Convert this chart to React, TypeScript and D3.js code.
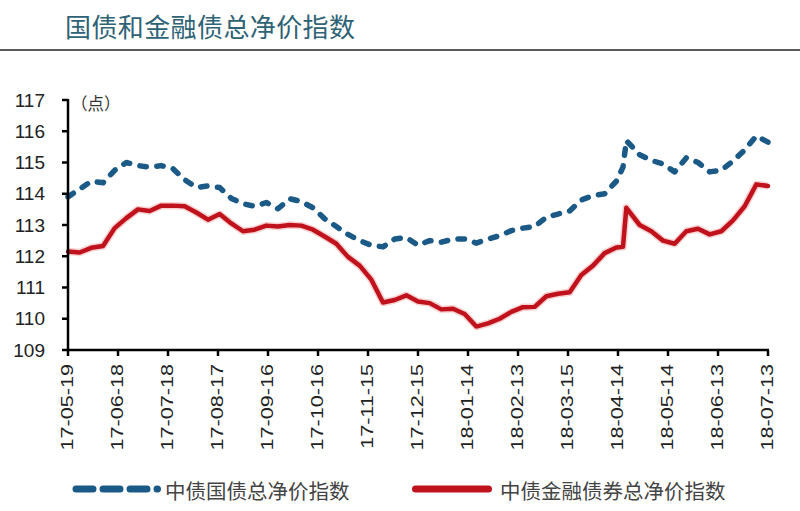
import * as d3 from 'd3';

const DATES: string[] = [
  '2017-05-19', '2017-05-26', '2017-06-02', '2017-06-09', '2017-06-16', '2017-06-23', '2017-06-30',
  '2017-07-07', '2017-07-14', '2017-07-21', '2017-07-28', '2017-08-04', '2017-08-11', '2017-08-18',
  '2017-08-25', '2017-09-01', '2017-09-08', '2017-09-15', '2017-09-22', '2017-09-29', '2017-10-06',
  '2017-10-13', '2017-10-20', '2017-10-27', '2017-11-03', '2017-11-10', '2017-11-17', '2017-11-24',
  '2017-12-01', '2017-12-08', '2017-12-15', '2017-12-22', '2017-12-29', '2018-01-05', '2018-01-12',
  '2018-01-19', '2018-01-26', '2018-02-02', '2018-02-09', '2018-02-16', '2018-02-23', '2018-03-02',
  '2018-03-09', '2018-03-16', '2018-03-23', '2018-03-30', '2018-04-06', '2018-04-13', '2018-04-17',
  '2018-04-19', '2018-04-27', '2018-05-04', '2018-05-11', '2018-05-18', '2018-05-25', '2018-06-01',
  '2018-06-08', '2018-06-15', '2018-06-22', '2018-06-29', '2018-07-06', '2018-07-13',
];

// 中债国债总净价指数
const GOV: number[] = [
  113.9, 114.15, 114.4, 114.35, 114.75, 115.0, 114.9,
  114.85, 114.9, 114.8, 114.45, 114.2, 114.25, 114.2,
  113.85, 113.68, 113.6, 113.72, 113.52, 113.84, 113.75,
  113.55, 113.2, 112.95, 112.7, 112.5, 112.35, 112.3,
  112.55, 112.6, 112.35, 112.5, 112.45, 112.55, 112.55,
  112.42, 112.55, 112.66, 112.82, 112.9, 112.95, 113.25,
  113.35, 113.45, 113.8, 113.94, 114.0, 114.4, 114.85,
  115.7, 115.25, 115.07, 114.95, 114.7, 115.15, 115.0,
  114.7, 114.75, 115.05, 115.4, 115.85, 115.65,
];

// 中债金融债券总净价指数
const FIN: number[] = [
  112.15, 112.12, 112.27, 112.33, 112.9, 113.22, 113.5,
  113.45, 113.62, 113.62, 113.6, 113.4, 113.17, 113.35,
  113.05, 112.8, 112.85, 112.98, 112.95, 113.0, 112.98,
  112.85, 112.63, 112.4, 111.98, 111.7, 111.25, 110.52,
  110.6, 110.75, 110.55, 110.5, 110.3, 110.32, 110.15,
  109.75, 109.85, 110.0, 110.22, 110.37, 110.38, 110.72,
  110.8, 110.85, 111.4, 111.7, 112.1, 112.28, 112.3,
  113.55, 113.0, 112.8, 112.5, 112.4, 112.8, 112.88,
  112.7, 112.8, 113.15, 113.6, 114.3, 114.25,
];

const TICK_DATES: string[] = [
  '2017-05-19', '2017-06-18', '2017-07-18', '2017-08-17', '2017-09-16', '2017-10-16', '2017-11-15',
  '2017-12-15', '2018-01-14', '2018-02-13', '2018-03-15', '2018-04-14', '2018-05-14', '2018-06-13',
  '2018-07-13',
];

const Y_TICKS: number[] = [109, 110, 111, 112, 113, 114, 115, 116, 117];

const TITLE = '国债和金融债总净价指数';
const UNIT = '（点）';
const SERIES_NAMES: string[] = ['中债国债总净价指数', '中债金融债券总净价指数'];

const BLUE = '#1b5a86';
const RED = '#c0121c';
const CJK = '"Noto Sans CJK SC", "Noto Sans", sans-serif';
const LATIN = '"Liberation Sans", Arial, sans-serif';

export default function App() {
  const W = 800;
  const H = 511;
  const plot = { left: 68, right: 768, top: 100, bottom: 350 };

  const parse = d3.timeParse('%Y-%m-%d');
  const fmt = d3.timeFormat('%y-%m-%d');
  const dates = DATES.map(d => parse(d) as Date);
  const ticks = TICK_DATES.map(d => parse(d) as Date);

  const x = d3.scaleTime()
    .domain([dates[0], dates[dates.length - 1]])
    .range([plot.left, plot.right]);
  const y = d3.scaleLinear()
    .domain([109, 117])
    .range([plot.bottom, plot.top]);

  const line = d3.line<number>()
    .x((_, i) => x(dates[i]))
    .y(v => y(v))
    .curve(d3.curveLinear);

  return (
    <div style={{ position: 'fixed', left: 0, top: 0, background: '#fff' }}>
      <svg width={W} height={H} style={{ display: 'block' }}>
        <rect width={W} height={H} fill="#fff" />

        {/* Title */}
        <text x={65} y={25} dominantBaseline="central" fontSize={26} fontFamily={CJK} fill="#2e6275" letterSpacing="0.4">
          {TITLE}
        </text>
        <line x1={0} x2={W} y1={50} y2={50} stroke="#222" strokeWidth={1.5} />

        {/* Unit */}
        <text x={71} y={103} dominantBaseline="central" fontSize={16.5} fontFamily={CJK} fill="#333">
          {UNIT}
        </text>

        {/* Series */}
        <path d={line(FIN) ?? ''} fill="none" stroke="#f2a5a5" strokeOpacity={0.5} strokeWidth={7.5} strokeLinejoin="round" />
        <path d={line(FIN) ?? ''} fill="none" stroke={RED} strokeWidth={4.5} strokeLinejoin="round" strokeLinecap="round" />
        <path d={line(GOV) ?? ''} fill="none" stroke={BLUE} strokeWidth={5.5} strokeLinecap="round" strokeLinejoin="round" strokeDasharray="6.5 10.5" />

        {/* Y axis */}
        <line x1={plot.left} x2={plot.left} y1={plot.top - 1} y2={plot.bottom} stroke="#000" strokeWidth={2.5} />
        {Y_TICKS.map(t => (
          <g key={t}>
            <line x1={plot.left - 6} x2={plot.left} y1={y(t)} y2={y(t)} stroke="#000" strokeWidth={2.5} />
            <text x={45} y={y(t)} textAnchor="end" dominantBaseline="central" fontSize={19} fontFamily={LATIN} fill="#222">
              {t}
            </text>
          </g>
        ))}

        {/* X axis */}
        <line x1={plot.left - 1} x2={plot.right + 1} y1={plot.bottom} y2={plot.bottom} stroke="#000" strokeWidth={2.5} />
        {ticks.map(t => (
          <g key={t.getTime()}>
            <line x1={x(t)} x2={x(t)} y1={plot.bottom} y2={plot.bottom + 6} stroke="#000" strokeWidth={2.5} />
            <text
              transform={`translate(${x(t)},${plot.bottom + 14}) rotate(-90) scale(1.35,1)`}
              textAnchor="end"
              dominantBaseline="central"
              fontSize={16}
              fontFamily={LATIN}
              fill="#222"
            >
              {fmt(t)}
            </text>
          </g>
        ))}

        {/* Legend */}
        <line x1={76} x2={157.5} y1={489} y2={489} stroke={BLUE} strokeWidth={7} strokeLinecap="round" strokeDasharray="17 10" />
        <text x={165} y={490} dominantBaseline="central" fontSize={20.5} fontFamily={CJK} fill="#444">
          {SERIES_NAMES[0]}
        </text>
        <line x1={415.5} x2={488.5} y1={489} y2={489} stroke={RED} strokeWidth={7} strokeLinecap="round" />
        <text x={500} y={490} dominantBaseline="central" fontSize={20.5} fontFamily={CJK} fill="#444">
          {SERIES_NAMES[1]}
        </text>
      </svg>
    </div>
  );
}
